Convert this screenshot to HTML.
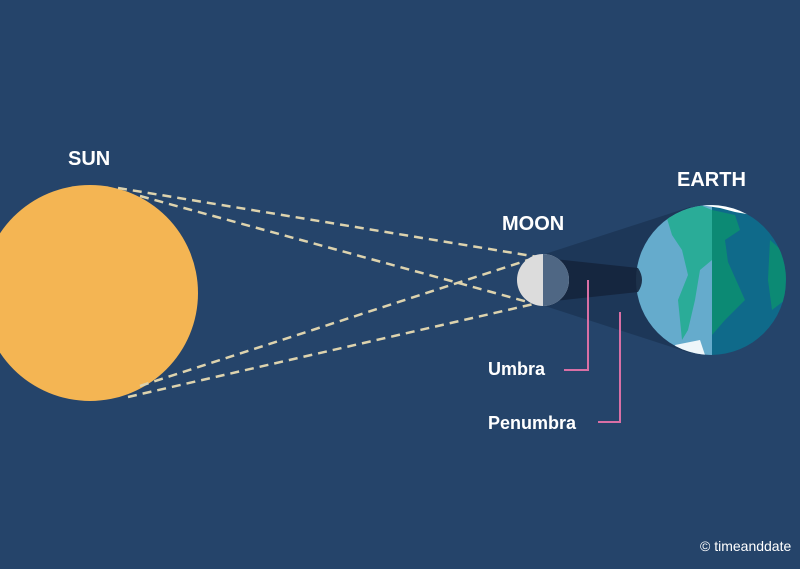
<!DOCTYPE html>
<html><head><meta charset="utf-8"><style>
html,body{margin:0;padding:0;background:#25446a;}
svg{display:block}
text{font-family:"Liberation Sans",sans-serif;font-weight:bold;fill:#fff}
</style></head><body>
<svg width="800" height="569" viewBox="0 0 800 569" xmlns="http://www.w3.org/2000/svg">
<rect width="800" height="569" fill="#25446a"/>
<circle cx="90" cy="293" r="108" fill="#f4b553"/>
<g stroke="#ddd3ae" stroke-width="2.5" stroke-dasharray="9,6" fill="none">
<line x1="118" y1="188" x2="538" y2="257"/>
<line x1="140" y1="196" x2="528" y2="302"/>
<line x1="128" y1="397" x2="538" y2="303"/>
<line x1="140" y1="386" x2="528" y2="260"/>
</g>
<defs><clipPath id="ec"><circle cx="711" cy="280" r="75"/></clipPath></defs>
<polygon points="545,254 690,207 690,353 545,306" fill="#1d3656" opacity="0.9"/>
<g clip-path="url(#ec)">
<rect x="630" y="200" width="82" height="160" fill="#5ea7c9"/>
<rect x="712" y="200" width="80" height="160" fill="#0f6a8a"/>
<path d="M665,212 L700,205 L712,210 L712,260 L700,270 L695,300 L688,330 L682,340 L678,300 L688,275 L682,250 L672,235 Z" fill="#19a88c"/>
<path d="M712,210 L735,215 L740,230 L725,240 L728,262 L745,300 L725,320 L712,335 Z" fill="#0c8a74"/>
<path d="M770,240 L787,255 L785,300 L772,310 L768,280 Z" fill="#0c8a74"/>
<path d="M700,205 L745,205 L752,215 L735,212 L720,208 Z" fill="#ffffff"/>
<path d="M675,345 L700,340 L705,355 L680,358 Z" fill="#ffffff"/>
<rect x="630" y="200" width="82" height="160" fill="#8fc3dc" opacity="0.15"/>
</g>
<path d="M545,258 L638,268 Q646,280 638,292 L545,302 Z" fill="#15253d" opacity="0.9"/>
<circle cx="543" cy="280" r="26" fill="#dcdcdc"/>
<path d="M543,254 A26,26 0 0 1 543,306 Z" fill="#4f6784"/>
<text x="68" y="165" font-size="20">SUN</text>
<text x="502" y="230" font-size="20">MOON</text>
<text x="677" y="186" font-size="20">EARTH</text>
<text x="488" y="375" font-size="18">Umbra</text>
<text x="488" y="429" font-size="18">Penumbra</text>
<polyline points="588,280 588,370 564,370" fill="none" stroke="#d96fa5" stroke-width="2"/>
<polyline points="620,312 620,422 598,422" fill="none" stroke="#d96fa5" stroke-width="2"/>
<text x="700" y="551" font-size="14" style="font-weight:normal" fill="#e0e4ee">© timeanddate</text>
</svg>
</body></html>
